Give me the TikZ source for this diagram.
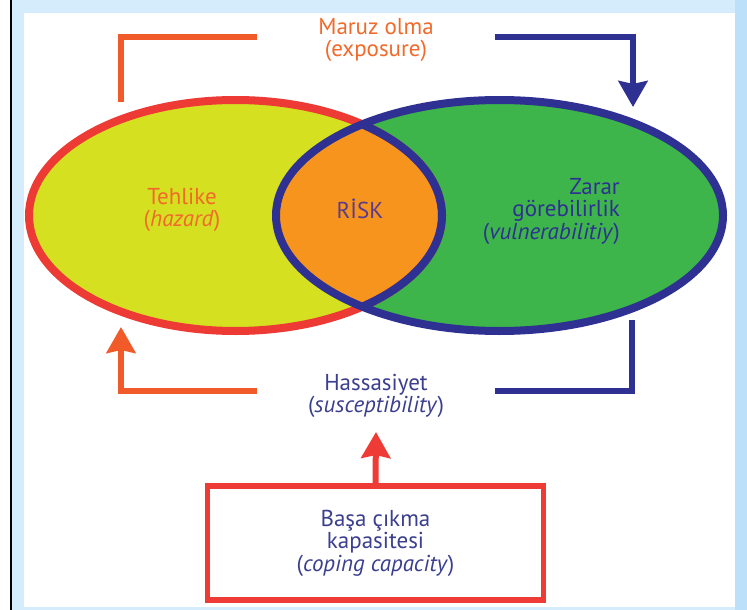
\documentclass[tikz,border=0pt]{standalone}
\usepackage{fontspec}
\setmainfont{PT Sans}
\usepackage{xcolor}
\definecolor{hazardorange}{HTML}{F15A29}
\definecolor{hazardtext}{HTML}{F26A2A}
\definecolor{hazardred}{HTML}{EE3A34}
\definecolor{hazardfill}{HTML}{D5E021}
\definecolor{vulnblue}{HTML}{2E3192}
\definecolor{vulnfill}{HTML}{3DB54A}
\definecolor{riskfill}{HTML}{F7941E}
\definecolor{risktext}{HTML}{5B3B8F}
\definecolor{labelblue}{HTML}{3B3F8F}
\definecolor{copingred}{HTML}{EF3B36}
\definecolor{framebg}{HTML}{D4ECFB}
\definecolor{frameedge}{HTML}{BCE0F9}
\usetikzlibrary{arrows.meta}

\begin{document}
\begin{tikzpicture}[x=1pt,y=-1pt,
  font=\fontsize{23}{22.5}\selectfont,
  term/.style={align=center,inner sep=0pt,minimum width=238pt},
  link/.style={line width=6pt},
  arrowed/.style={-{Stealth[length=26pt,width=29pt,inset=3pt]}},
  rim/.style={line width=8pt}]
  % slide frame
  \useasboundingbox (0,0) rectangle (747,610);
  \fill[framebg] (12,0) rectangle (747,610);
  \fill[frameedge] (735,0) rectangle (747,610);
  \fill[white] (24,13) rectangle (735,607);
  \draw[black,line width=2pt] (11,0) -- (11,610);
  % the two sets and their overlap
  \fill[hazardfill] (235.5,215.5) ellipse [x radius=206.5,y radius=115.5];
  \fill[vulnfill] (499.5,215.5) ellipse [x radius=223.5,y radius=115.5];
  \begin{scope}
    \clip (235.5,215.5) ellipse [x radius=206.5,y radius=115.5];
    \fill[riskfill] (499.5,215.5) ellipse [x radius=223.5,y radius=115.5];
  \end{scope}
  \draw[rim,hazardred] (235.5,215.5) ellipse [x radius=206.5,y radius=115.5];
  \draw[rim,vulnblue] (499.5,215.5) ellipse [x radius=223.5,y radius=115.5];
  \begin{scope}
    \clip (499.5,215.5) ellipse [x radius=223.5,y radius=115.5];
    \draw[rim,vulnblue] (235.5,215.5) ellipse [x radius=206.5,y radius=115.5];
  \end{scope}
  \node[align=center,text=hazardtext] (hazard) at (182,210)
    {Tehlike\\(\textit{hazard})};
  \node[text=risktext] (risk) at (360,209) {RİSK};
  \node[align=right,text=vulnblue,anchor=east,inner sep=0pt] (vuln) at (620,211)
    {Zarar\\görebilirlik\\(\textit{vulnerabilitiy})};
  % labels on the loop
  \node[term,text=hazardtext] (expo) at (376,40) {Maruz olma\\(exposure)};
  \node[term,text=labelblue] (suscept) at (376,396)
    {Hassasiyet\\(\textit{susceptibility})};
  \node[draw=copingred,line width=5.5pt,minimum width=336pt,minimum height=114pt,
        align=center,text=labelblue] (coping) at (375.5,543)
    {Başa çıkma\\kapasitesi\\(\textit{coping capacity})};
  \coordinate (hzdtop) at (121,102);
  \coordinate (vlntop) at (633,107);
  \coordinate (hzdbot) at (121,327);
  \coordinate (vlnbot) at (632,320);
  \coordinate (suscin) at (376,432);
  \draw[link,hazardorange] ([yshift=3pt]expo.west) -| (hzdtop);
  \draw[link,arrowed,vulnblue] ([yshift=3pt]expo.east) -| (vlntop);
  \draw[link,arrowed,hazardorange] ([yshift=5pt]suscept.west) -| (hzdbot);
  \draw[link,vulnblue] ([yshift=5pt]suscept.east) -| (vlnbot);
  \draw[link,arrowed,copingred] (coping.north) -- (suscin);
\end{tikzpicture}
\end{document}
